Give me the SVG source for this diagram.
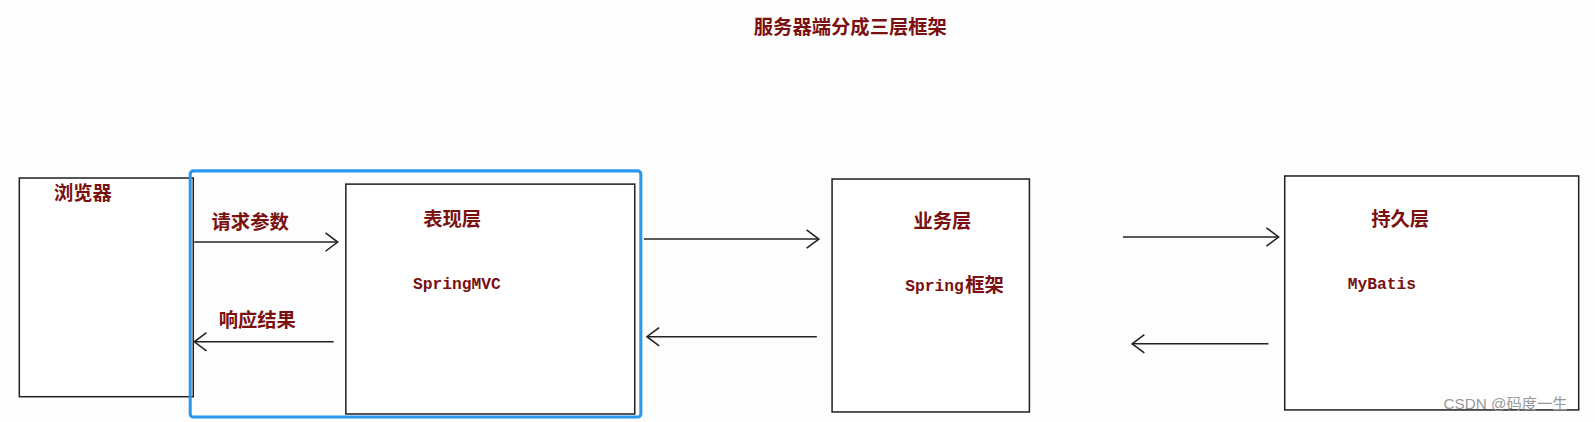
<svg xmlns="http://www.w3.org/2000/svg" width="1595" height="422" viewBox="0 0 1595 422">
<style>
.box{fill:#fff;stroke:#222;stroke-width:1.5}
.t{font-family:"Noto Sans CJK SC","Liberation Sans",sans-serif;font-weight:bold;fill:#7a1010;font-size:19px}
.m{font-family:"Liberation Mono",monospace;font-weight:bold;fill:#7a1010;font-size:16px}
.c{stroke:#222;stroke-width:1.5;fill:none}
</style>
<defs><marker id="a" markerWidth="14" markerHeight="20" refX="13" refY="10" orient="auto" markerUnits="userSpaceOnUse"><path d="M1,1 L13,10 L1,19" fill="none" stroke="#222" stroke-width="1.5"/></marker></defs>
<rect width="1595" height="422" fill="#fdfdfd"/>
<g transform="scale(1.0172)">
<text x="836" y="33" class="t" text-anchor="middle">服务器端分成三层框架</text>
<g id="browser"><rect class="box" x="19" y="175" width="171" height="215"/><text x="53" y="197" class="t">浏览器</text></g>
<g id="web"><rect x="187" y="168" width="443" height="242" rx="3" fill="none" stroke="#2b98f0" stroke-width="3"/><rect class="box" x="340" y="181" width="284" height="226"/><text x="416" y="222" class="t">表现层</text><text x="406" y="284" class="m">SpringMVC</text></g>
<g id="service"><rect class="box" x="818" y="176" width="194" height="229"/><text x="898" y="224" class="t">业务层</text><text x="890" y="286" class="m">Spring</text><text x="949" y="287" class="t">框架</text></g>
<g id="dao"><rect class="box" x="1263" y="173" width="289" height="230"/><text x="1348" y="222" class="t">持久层</text><text x="1325" y="284" class="m">MyBatis</text></g>
<g id="connectors">
<line class="c" x1="191" y1="238" x2="332" y2="238" marker-end="url(#a)"/>
<line class="c" x1="328" y1="336" x2="191" y2="336" marker-end="url(#a)"/>
<line class="c" x1="633" y1="235" x2="805" y2="235" marker-end="url(#a)"/>
<line class="c" x1="803" y1="331" x2="636" y2="331" marker-end="url(#a)"/>
<line class="c" x1="1104" y1="233" x2="1257" y2="233" marker-end="url(#a)"/>
<line class="c" x1="1247" y1="338" x2="1113" y2="338" marker-end="url(#a)"/>
</g>
<text x="208" y="225" class="t">请求参数</text>
<text x="215" y="321" class="t">响应结果</text>
<text x="1480" y="402" font-family="Liberation Sans,Noto Sans CJK SC,sans-serif" font-size="15" fill="#999" text-anchor="middle">CSDN @码度一生</text>
</g>
</svg>
